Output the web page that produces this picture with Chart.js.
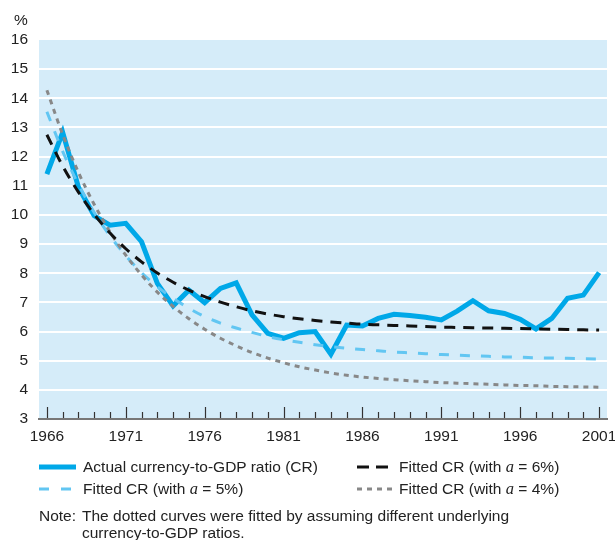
<!DOCTYPE html>
<html><head><meta charset="utf-8">
<script src="https://cdn.jsdelivr.net/npm/chart.js@4.4.1/dist/chart.umd.min.js"></script>
<style>
html,body{margin:0;padding:0;background:#fff;}
#wrap{position:relative;width:615px;height:540px;font-family:'Liberation Sans',Arial,sans-serif;color:#222;font-size:15.5px;overflow:hidden;}
canvas{position:absolute;left:0;top:0;}
.t{position:absolute;white-space:nowrap;line-height:18px;}
.t i{font-family:'Liberation Serif','Times New Roman',serif;font-size:16.5px;}
svg{position:absolute;overflow:visible;}
</style></head><body>
<div id="wrap">
<canvas id="c" width="615" height="540"></canvas>
<div class="t" style="left:14px;top:11px;">%</div>

<svg style="left:39px;top:462px;" width="37" height="10"><line x1="0" y1="5" x2="37" y2="5" stroke="#00A8E8" stroke-width="5"/></svg>
<div class="t" style="left:83px;top:458px;">Actual currency-to-GDP ratio (CR)</div>
<svg style="left:39px;top:484px;" width="34" height="10"><line x1="0" y1="5" x2="34" y2="5" stroke="#62C6F2" stroke-width="3" stroke-dasharray="10 12"/></svg>
<div class="t" style="left:83px;top:480px;">Fitted CR (with <i>a</i> = 5%)</div>

<svg style="left:357px;top:462px;" width="31" height="10"><line x1="0" y1="5" x2="31" y2="5" stroke="#111" stroke-width="3" stroke-dasharray="12 7"/></svg>
<div class="t" style="left:399px;top:458px;">Fitted CR (with <i>a</i> = 6%)</div>
<svg style="left:357px;top:484px;" width="35" height="10"><line x1="0" y1="5" x2="35" y2="5" stroke="#888" stroke-width="3" stroke-dasharray="5 5"/></svg>
<div class="t" style="left:399px;top:480px;">Fitted CR (with <i>a</i> = 4%)</div>

<div class="t" style="left:39px;top:507px;line-height:17px;">Note:</div>
<div class="t" style="left:82px;top:507px;line-height:17px;">The dotted curves were fitted by assuming different underlying<br>currency-to-GDP ratios.</div>
</div>
<script>
const years = [1966,1967,1968,1969,1970,1971,1972,1973,1974,1975,1976,1977,1978,1979,1980,1981,1982,1983,1984,1985,1986,1987,1988,1989,1990,1991,1992,1993,1994,1995,1996,1997,1998,1999,2000,2001];
const actualCR = [11.40,12.83,10.95,9.97,9.65,9.71,9.08,7.65,6.88,7.42,6.99,7.48,7.67,6.57,5.94,5.77,5.96,6.00,5.22,6.22,6.19,6.45,6.59,6.55,6.49,6.40,6.70,7.06,6.71,6.62,6.42,6.09,6.45,7.14,7.25,8.02];
const fitted6 = [12.75,11.68,10.78,10.02,9.38,8.84,8.39,8.01,7.69,7.42,7.20,7.01,6.85,6.71,6.60,6.51,6.44,6.38,6.33,6.29,6.25,6.23,6.21,6.19,6.17,6.15,6.14,6.13,6.12,6.11,6.10,6.09,6.08,6.07,6.06,6.05];
const fitted5 = [13.54,12.18,11.05,10.08,9.28,8.60,8.02,7.54,7.14,6.80,6.51,6.29,6.12,5.97,5.83,5.72,5.63,5.55,5.48,5.43,5.38,5.34,5.30,5.27,5.24,5.21,5.19,5.17,5.15,5.13,5.12,5.10,5.09,5.08,5.07,5.06];
const fitted4 = [14.28,12.76,11.46,10.36,9.42,8.62,7.94,7.35,6.86,6.44,6.08,5.77,5.51,5.28,5.09,4.93,4.79,4.68,4.58,4.50,4.44,4.39,4.35,4.31,4.28,4.25,4.23,4.21,4.19,4.17,4.15,4.14,4.12,4.11,4.10,4.09];
const yTicks = [3,4,5,6,7,8,9,10,11,12,13,14,15,16];
const xLabelEvery = 5;

const FONT = {family:"'Liberation Sans', Arial, sans-serif", size:15.5};

const bgPlugin = {
  id:'bg',
  beforeDraw(chart){
    const {ctx, chartArea:a} = chart;
    ctx.save(); ctx.fillStyle='#D5ECF9';
    ctx.fillRect(a.left, a.top, a.right-a.left, a.bottom-a.top);
    ctx.restore();
  }
};
const tickPlugin = {
  id:'ticks',
  afterDraw(chart){
    const {ctx, chartArea:a} = chart; const xs = chart.scales.x;
    ctx.save(); ctx.strokeStyle='#333'; ctx.lineWidth=1.2;
    years.forEach((y,i)=>{
      const px = Math.round(xs.getPixelForValue(i))+0.5;
      const len = (i % xLabelEvery === 0) ? 11 : 6;
      ctx.beginPath(); ctx.moveTo(px, a.bottom-1); ctx.lineTo(px, a.bottom-1-len); ctx.stroke();
    });
    ctx.restore();
  }
};

new Chart(document.getElementById('c'), {
  type:'line',
  data:{
    labels: years.map(String),
    datasets:[
      {label:'Actual currency-to-GDP ratio (CR)', data:actualCR, borderColor:'#00A8E8', borderWidth:5, pointRadius:0, tension:0, order:4, borderJoinStyle:'miter'},
      {label:'Fitted CR (with a = 5%)', data:fitted5, borderColor:'#62C6F2', borderWidth:3, borderDash:[10,11], pointRadius:0, cubicInterpolationMode:'monotone', order:3},
      {label:'Fitted CR (with a = 4%)', data:fitted4, borderColor:'#888888', borderWidth:3, borderDash:[5,5], pointRadius:0, cubicInterpolationMode:'monotone', order:2},
      {label:'Fitted CR (with a = 6%)', data:fitted6, borderColor:'#111111', borderWidth:3, borderDash:[11,8], pointRadius:0, cubicInterpolationMode:'monotone', order:1}
    ]
  },
  options:{
    responsive:false, animation:false, devicePixelRatio:1,
    layout:{padding:{top:40, right:8, bottom:91, left:0}},
    plugins:{legend:{display:false}, tooltip:{enabled:false}},
    scales:{
      x:{
        type:'category', offset:true,
        grid:{display:false, drawTicks:false},
        border:{display:true, color:'#777', width:2},
        ticks:{autoSkip:false, maxRotation:0, padding:8, color:'#222', font:FONT,
          callback:function(v,i){ return i % xLabelEvery === 0 ? years[i] : ''; }},
        afterFit(s){ s.height = 30; s.paddingLeft = 0; s.paddingRight = 0; }
      },
      y:{
        min:yTicks[0], max:yTicks[yTicks.length-1],
        afterBuildTicks(s){ s.ticks = yTicks.map(v=>({value:v})); },
        grid:{drawTicks:false, lineWidth:2,
          color:(c)=> (c.tick && c.tick.value > yTicks[0] && c.tick.value < yTicks[yTicks.length-1]) ? '#ffffff' : 'rgba(0,0,0,0)'},
        border:{display:false},
        ticks:{padding:11, color:'#222', font:FONT},
        afterFit(s){ s.width = 39; }
      }
    }
  },
  plugins:[bgPlugin, tickPlugin]
});
</script>
</body></html>
